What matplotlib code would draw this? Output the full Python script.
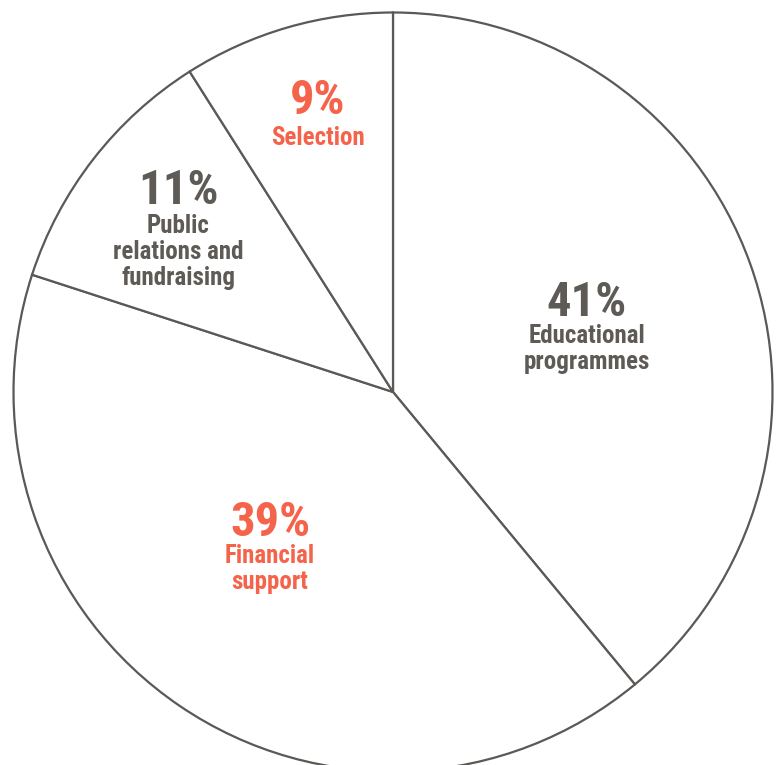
import matplotlib
matplotlib.use("Agg")
import matplotlib.pyplot as plt

# ---- data ----
categories = ["Educational programmes", "Financial support",
              "Public relations and fundraising", "Selection"]
shares = [39, 41, 11, 9]                 # slice sizes as drawn
pct_labels = ["41%", "39%", "11%", "9%"]  # percentages as printed
name_labels = ["Educational\nprogrammes", "Financial\nsupport",
               "Public\nrelations and\nfundraising", "Selection"]

# ---- style / layout ----
W, H = 781, 765
GRAY = "#5e5a56"
ORANGE = "#f4634a"
LINE = "#5b5855"
text_colors = [GRAY, ORANGE, GRAY, ORANGE]
# anchor: (center x, baseline of percentage, baseline of first name line), px from top-left
anchors = [(587, 316, 343), (270, 536, 563), (178, 204, 233), (318, 114, 145)]
LINE_STEP = 26
FONT = ["Roboto Condensed", "DejaVu Sans"]

fig = plt.figure(figsize=(W / 100, H / 100), dpi=100)
ax = fig.add_axes([0, 0, 1, 1])

cx, cy, r = 393, H - 392, 379.5
ax.pie(shares, startangle=90, counterclock=False, center=(cx, cy), radius=r,
       colors=["white"] * len(shares),
       wedgeprops=dict(edgecolor=LINE, linewidth=1.6))

ax.set_xlim(0, W)
ax.set_ylim(0, H)
ax.set_aspect("equal", adjustable="box")
ax.axis("off")

for (x, yp, yl), pct, name, col in zip(anchors, pct_labels, name_labels, text_colors):
    ax.text(x, H - yp, pct, ha="center", va="baseline", color=col,
            fontsize=35, fontweight="bold", family=FONT)
    for i, line in enumerate(name.split("\n")):
        ax.text(x, H - (yl + LINE_STEP * i), line, ha="center", va="baseline",
                color=col, fontsize=18, fontweight="bold", family=FONT)

fig.savefig("out.png", dpi=100)
